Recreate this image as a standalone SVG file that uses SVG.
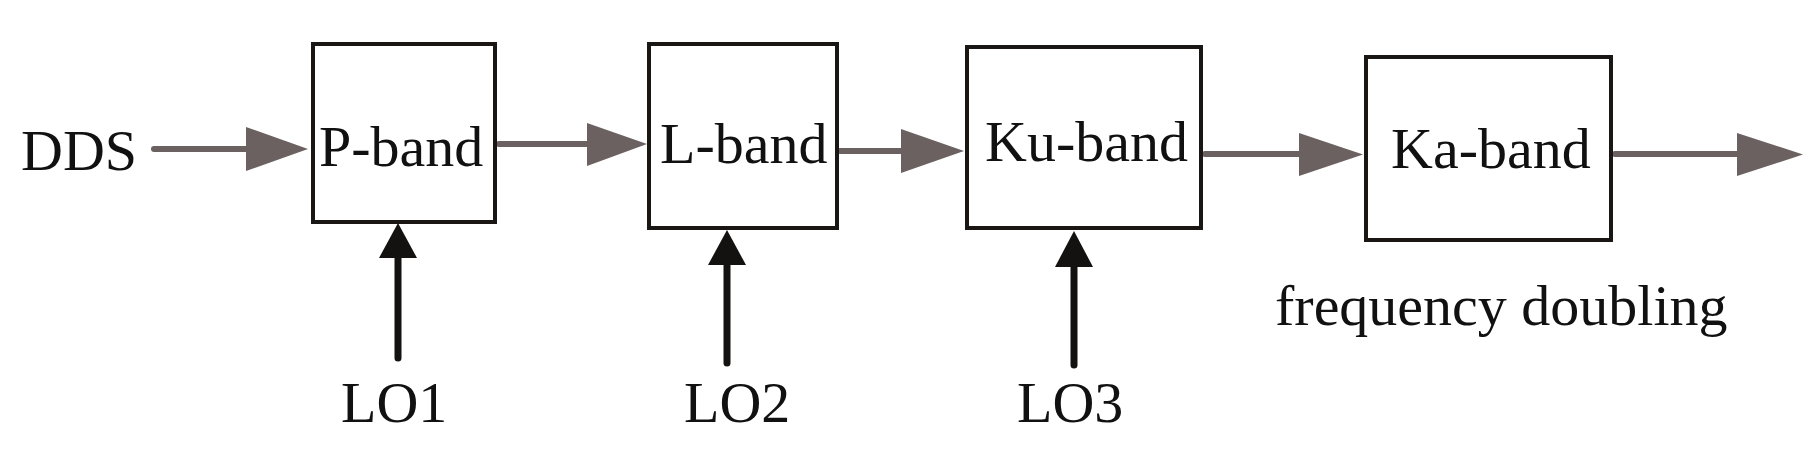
<svg xmlns="http://www.w3.org/2000/svg" width="1814" height="474" viewBox="0 0 1814 474">
<style>
.box{fill:#fff;stroke:#1a1613;stroke-width:4}
.t{font-family:"Liberation Serif","Times New Roman",serif;font-size:58px;fill:#111}
.gl{stroke:#6a6160;stroke-width:6;stroke-linecap:round;fill:none}
.gh{fill:#6a6160}
.bl{stroke:#141210;stroke-width:7;stroke-linecap:round;fill:none}
.bh{fill:#141210}
</style>
<rect width="1814" height="474" fill="#fff"/>
<g id="connectors">
<line class="gl" x1="154" y1="149" x2="250" y2="149"/>
<polygon class="gh" points="246,127 308,149 246,171"/>
<line class="gl" x1="499" y1="144" x2="590" y2="144"/>
<polygon class="gh" points="587,123 647,144 587,166"/>
<line class="gl" x1="840" y1="151" x2="905" y2="151"/>
<polygon class="gh" points="901,129 964,151 901,173"/>
<line class="gl" x1="1205" y1="154" x2="1302" y2="154"/>
<polygon class="gh" points="1299,133 1363,154.5 1299,176"/>
<line class="gl" x1="1615" y1="154" x2="1740" y2="154"/>
<polygon class="gh" points="1737,133 1803,154.5 1737,176"/>
<line class="bl" x1="398" y1="358" x2="398" y2="255"/>
<polygon class="bh" points="379,258 398,223 417,258"/>
<line class="bl" x1="727" y1="363" x2="727" y2="262"/>
<polygon class="bh" points="708,265 727,230 746,265"/>
<line class="bl" x1="1074" y1="365" x2="1074" y2="264"/>
<polygon class="bh" points="1055,267 1074,231 1093,267"/>
</g>
<g id="dds"><text class="t" x="21" y="170">DDS</text></g>
<g id="pband"><rect class="box" x="313" y="44" width="182" height="178"/><text class="t" x="319" y="166">P-band</text></g>
<g id="lband"><rect class="box" x="649" y="44" width="188" height="184"/><text class="t" x="660" y="163">L-band</text></g>
<g id="kuband"><rect class="box" x="967" y="47" width="234" height="181"/><text class="t" x="985" y="161">Ku-band</text></g>
<g id="kaband"><rect class="box" x="1366" y="57" width="245" height="183"/><text class="t" x="1391" y="168">Ka-band</text></g>
<g id="lo1"><text class="t" x="341" y="422">LO1</text></g>
<g id="lo2"><text class="t" x="684" y="422">LO2</text></g>
<g id="lo3"><text class="t" x="1017" y="422">LO3</text></g>
<g id="freq"><text class="t" x="1275" y="325">frequency doubling</text></g>
</svg>
